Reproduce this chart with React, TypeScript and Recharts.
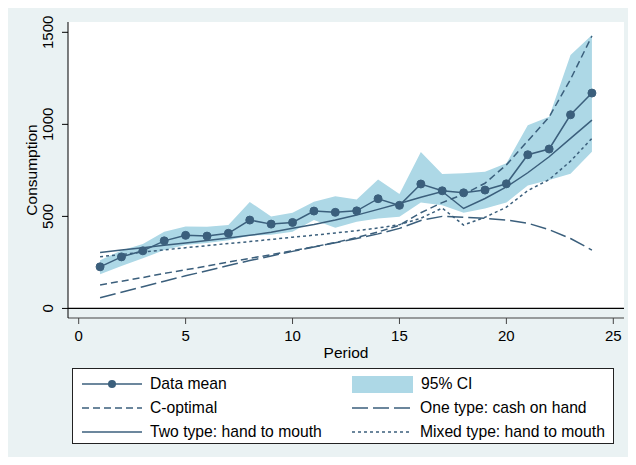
import React from "react";
import {
  ComposedChart,
  Area,
  Line,
  XAxis,
  YAxis,
  CartesianGrid,
  ReferenceArea,
  ReferenceLine,
} from "recharts";

const periods = [1, 2, 3, 4, 5, 6, 7, 8, 9, 10, 11, 12, 13, 14, 15, 16, 17, 18, 19, 20, 21, 22, 23, 24];
const dataMean = [226, 280, 313, 367, 397, 393, 408, 480, 458, 467, 529, 522, 530, 596, 560, 676, 639, 628, 643, 677, 835, 866, 1052, 1170];
const ciLow = [186, 230, 272, 317, 345, 355, 371, 395, 400, 416, 480, 438, 471, 489, 498, 575, 561, 520, 543, 575, 668, 697, 732, 851];
const ciHigh = [262, 315, 350, 416, 445, 444, 453, 578, 500, 520, 580, 610, 592, 700, 621, 850, 730, 734, 742, 788, 995, 1041, 1377, 1485];
const cOptimal = [127, 148, 168, 190, 210, 230, 252, 272, 292, 313, 335, 358, 385, 415, 452, 520, 575, 620, 680, 780, 910, 1040, 1245, 1480];
const oneType = [58, 88, 118, 148, 177, 205, 233, 260, 285, 310, 334, 357, 380, 405, 435, 478, 500, 495, 489, 480, 463, 428, 380, 317];
const twoType = [304, 317, 330, 343, 356, 369, 382, 397, 414, 435, 456, 480, 507, 538, 570, 604, 635, 543, 597, 660, 737, 824, 924, 1023];
const mixedType = [281, 293, 306, 318, 330, 341, 353, 363, 375, 387, 398, 410, 422, 437, 455, 490, 545, 453, 495, 550, 640, 700, 800, 924];

const xTicks = [0, 5, 10, 15, 20, 25];
const yTicks = [0, 500, 1000, 1500];

const data = periods.map((p, i) => ({
  period: p,
  mean: dataMean[i],
  ci: [ciLow[i], ciHigh[i]],
  copt: cOptimal[i],
  one: oneType[i],
  two: twoType[i],
  mixed: mixedType[i],
}));

const FONT = "'Liberation Sans', Arial, sans-serif";
const INK = "#3b5f7c";
const BAND = "#add8e6";
const BG = "#eaf2f3";

function YTick(props: any) {
  const { y, payload } = props;
  return (
    <text
      transform={`translate(47, ${y}) rotate(-90)`}
      textAnchor="middle"
      fontSize={15}
      fontFamily={FONT}
      fill="#000"
    >
      {payload.value}
    </text>
  );
}

function YTitle(props: any) {
  const vb = props.viewBox || { y: 16, height: 296 };
  const cy = vb.y + vb.height / 2;
  return (
    <text
      transform={`translate(31, ${cy}) rotate(-90)`}
      textAnchor="middle"
      fontSize={15.5}
      fontFamily={FONT}
      fill="#000"
    >
      Consumption
    </text>
  );
}

function LegendRow({ children }: { children: React.ReactNode }) {
  return <div style={{ display: "flex", alignItems: "center", height: 24 }}>{children}</div>;
}

function LineSwatch({ dash, marker }: { dash?: string; marker?: boolean }) {
  return (
    <svg width={60} height={20} style={{ display: "block" }}>
      <line x1={0} y1={10} x2={60} y2={10} stroke={INK} strokeWidth={1.5} strokeDasharray={dash} />
      {marker && <circle cx={30} cy={10} r={4} fill={INK} />}
    </svg>
  );
}

function ChartLegend() {
  const label: React.CSSProperties = { fontSize: 15.7, fontFamily: FONT, color: "#000", marginLeft: 8 };
  return (
    <div
      style={{
        position: "absolute",
        left: 66,
        top: 362,
        width: 542,
        height: 76,
        background: "#fff",
        border: "1px solid #222",
        padding: "3px 0 0 9px",
        boxSizing: "border-box",
        display: "flex",
      }}
    >
      <div style={{ width: 270 }}>
        <LegendRow>
          <LineSwatch marker />
          <span style={label}>Data mean</span>
        </LegendRow>
        <LegendRow>
          <LineSwatch dash="7 4" />
          <span style={label}>C-optimal</span>
        </LegendRow>
        <LegendRow>
          <LineSwatch />
          <span style={label}>Two type: hand to mouth</span>
        </LegendRow>
      </div>
      <div>
        <LegendRow>
          <div style={{ width: 61, height: 17, background: BAND }} />
          <span style={label}>95% CI</span>
        </LegendRow>
        <LegendRow>
          <LineSwatch dash="16 5" />
          <span style={label}>One type: cash on hand</span>
        </LegendRow>
        <LegendRow>
          <LineSwatch dash="3 3" />
          <span style={label}>Mixed type: hand to mouth</span>
        </LegendRow>
      </div>
    </div>
  );
}

export default function App() {
  return (
    <div style={{ margin: -2, width: 624, height: 453, background: BG, position: "relative" }}>
      <ComposedChart
        width={624}
        height={360}
        data={data}
        margin={{ top: 16, right: 6, left: 0, bottom: 8 }}
      >
        <ReferenceArea x1={-0.5} x2={25.5} y1={0} y2={1556} fill="#fff" fillOpacity={1} stroke="none" ifOverflow="hidden" />
        <CartesianGrid horizontal vertical={false} stroke={BG} strokeWidth={1.2} />
        <XAxis
          dataKey="period"
          type="number"
          domain={[-0.5, 25.5]}
          ticks={xTicks}
          allowDataOverflow
          height={40}
          tickSize={6}
          tickMargin={6}
          tick={{ fontSize: 15, fontFamily: FONT, fill: "#000" }}
          stroke="#444"
          label={{ value: "Period", position: "insideBottom", offset: 0, fontSize: 15.5, fontFamily: FONT, fill: "#000" }}
        />
        <YAxis
          type="number"
          domain={[-52, 1556]}
          ticks={yTicks}
          allowDataOverflow
          width={62}
          tickSize={6}
          tick={<YTick />}
          stroke="#000"
          label={<YTitle />}
        />
        <Area dataKey="ci" stroke="none" fill={BAND} fillOpacity={1} isAnimationActive={false} />
        <ReferenceLine y={0} stroke="#000" strokeWidth={1.2} />
        <Line dataKey="mixed" stroke={INK} strokeWidth={1.5} strokeDasharray="3 3" dot={false} isAnimationActive={false} />
        <Line dataKey="one" stroke={INK} strokeWidth={1.5} strokeDasharray="16 5" dot={false} isAnimationActive={false} />
        <Line dataKey="copt" stroke={INK} strokeWidth={1.5} strokeDasharray="7 4" dot={false} isAnimationActive={false} />
        <Line dataKey="two" stroke={INK} strokeWidth={1.5} dot={false} isAnimationActive={false} />
        <Line
          dataKey="mean"
          stroke={INK}
          strokeWidth={1.5}
          dot={{ r: 4, fill: INK, stroke: INK, strokeWidth: 1 }}
          isAnimationActive={false}
        />
      </ComposedChart>
      <ChartLegend />
    </div>
  );
}
